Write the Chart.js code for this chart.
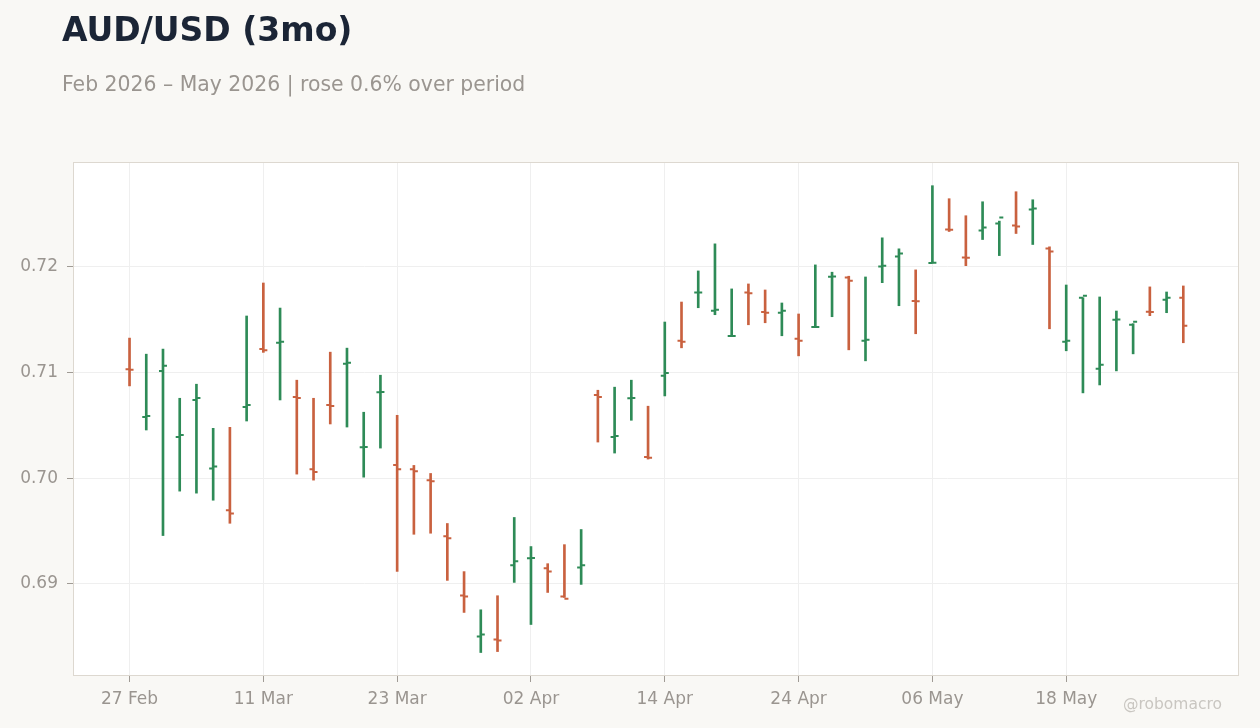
<!DOCTYPE html>
<html>
<head>
<meta charset="utf-8">
<script src="https://cdn.jsdelivr.net/npm/chart.js@4.4.1/dist/chart.umd.min.js"></script>
<style>
  html, body { margin: 0; padding: 0; background: #f9f8f5; }
  #wrap { position: relative; width: 1260px; height: 728px; overflow: hidden; font-family: "DejaVu Sans", sans-serif; }
  #title { position: absolute; left: 62px; top: 13px; font-size: 33px; line-height: 33px; font-weight: bold; color: #1b2536; white-space: nowrap; }
  #subtitle { position: absolute; left: 62px; top: 74px; font-size: 20.4px; line-height: 20.4px; color: #9a9590; white-space: nowrap; }
  #credit { position: absolute; right: 38px; top: 697px; font-size: 15.5px; line-height: 15.5px; color: #c9c6c1; white-space: nowrap; }
  canvas { position: absolute; left: 0; top: 0; }
</style>
</head>
<body>
<div id="wrap">
  <canvas id="ohlc-chart" width="1260" height="728"></canvas>
  <div id="title">AUD/USD (3mo)</div>
  <div id="subtitle">Feb 2026 – May 2026 | rose 0.6% over period</div>
  <div id="credit">@robomacro</div>
</div>
<script>
// trading days, one bar each
var dates = [
  "27 Feb",
  "02 Mar", "03 Mar", "04 Mar", "05 Mar", "06 Mar",
  "09 Mar", "10 Mar", "11 Mar", "12 Mar", "13 Mar",
  "16 Mar", "17 Mar", "18 Mar", "19 Mar", "20 Mar",
  "23 Mar", "24 Mar", "25 Mar", "26 Mar", "27 Mar",
  "30 Mar", "31 Mar", "01 Apr", "02 Apr", "03 Apr",
  "06 Apr", "07 Apr", "08 Apr", "09 Apr", "10 Apr",
  "13 Apr", "14 Apr", "15 Apr", "16 Apr", "17 Apr",
  "20 Apr", "21 Apr", "22 Apr", "23 Apr", "24 Apr",
  "27 Apr", "28 Apr", "29 Apr", "30 Apr", "01 May",
  "04 May", "05 May", "06 May", "07 May", "08 May",
  "11 May", "12 May", "13 May", "14 May", "15 May",
  "18 May", "19 May", "20 May", "21 May", "22 May",
  "25 May", "26 May", "27 May"
];
var tickLabels = ["27 Feb", "11 Mar", "23 Mar", "02 Apr", "14 Apr", "24 Apr", "06 May", "18 May"];
var yTicks = [0.69, 0.70, 0.71, 0.72];

var opens = [
  0.71031, 0.70579, 0.71015, 0.70390, 0.70740, 0.70093, 0.69698, 0.70674, 0.71221, 0.71281,
  0.70769, 0.70086, 0.70693, 0.71082, 0.70292, 0.70813, 0.70124, 0.70086, 0.69982, 0.69451,
  0.68892, 0.68503, 0.68475, 0.69176, 0.69243, 0.69148, 0.68882, 0.69157, 0.70788, 0.70390,
  0.70756, 0.70200, 0.70968, 0.71300, 0.71755, 0.71584, 0.71344, 0.71755, 0.71572, 0.71565,
  0.71318, 0.71429, 0.71906, 0.71897, 0.71300, 0.72001, 0.72096, 0.71676, 0.72036, 0.72352,
  0.72086, 0.72342, 0.72409, 0.72390, 0.72541, 0.72172, 0.71290, 0.71707, 0.71034, 0.71499,
  0.71451, 0.71574, 0.71688, 0.71707
];
var highs = [
  0.71325, 0.71173, 0.71221, 0.70756, 0.70889, 0.70472, 0.70481, 0.71534, 0.71846, 0.71609,
  0.70927, 0.70756, 0.71192, 0.71230, 0.70624, 0.70974, 0.70595, 0.70121, 0.70045, 0.69572,
  0.69117, 0.68756, 0.68889, 0.69629, 0.69354, 0.69192, 0.69372, 0.69515, 0.70832, 0.70861,
  0.70927, 0.70681, 0.71477, 0.71666, 0.71960, 0.72216, 0.71790, 0.71837, 0.71780, 0.71657,
  0.71553, 0.72017, 0.71948, 0.71910, 0.71903, 0.72273, 0.72169, 0.71970, 0.72766, 0.72643,
  0.72482, 0.72614, 0.72431, 0.72709, 0.72633, 0.72188, 0.71827, 0.71707, 0.71714, 0.71581,
  0.71461, 0.71809, 0.71761, 0.71818
];
var lows = [
  0.70873, 0.70456, 0.69458, 0.69878, 0.69859, 0.69792, 0.69574, 0.70541, 0.71190, 0.70740,
  0.70039, 0.69982, 0.70513, 0.70484, 0.70010, 0.70285, 0.69119, 0.69470, 0.69480, 0.69034,
  0.68731, 0.68352, 0.68361, 0.69015, 0.68617, 0.68920, 0.68873, 0.68996, 0.70342, 0.70238,
  0.70548, 0.70181, 0.70778, 0.71233, 0.71612, 0.71546, 0.71344, 0.71451, 0.71470, 0.71347,
  0.71157, 0.71429, 0.71527, 0.71214, 0.71110, 0.71849, 0.71631, 0.71366, 0.72036, 0.72333,
  0.72010, 0.72257, 0.72105, 0.72314, 0.72210, 0.71413, 0.71205, 0.70807, 0.70882, 0.71015,
  0.71176, 0.71537, 0.71565, 0.71281
];
var closes = [
  0.71025, 0.70589, 0.71063, 0.70409, 0.70759, 0.70112, 0.69666, 0.70693, 0.71211, 0.71290,
  0.70759, 0.70058, 0.70683, 0.71091, 0.70295, 0.70816, 0.70086, 0.70067, 0.69972, 0.69432,
  0.68882, 0.68522, 0.68465, 0.69214, 0.69246, 0.69119, 0.68861, 0.69176, 0.70769, 0.70399,
  0.70759, 0.70194, 0.70996, 0.71290, 0.71757, 0.71593, 0.71345, 0.71749, 0.71565, 0.71584,
  0.71300, 0.71431, 0.71908, 0.71868, 0.71309, 0.72010, 0.72124, 0.71674, 0.72038, 0.72350,
  0.72084, 0.72371, 0.72465, 0.72380, 0.72551, 0.72143, 0.71300, 0.71726, 0.71072, 0.71501,
  0.71480, 0.71572, 0.71707, 0.71442
];

var UP = '#2e8b57';
var DOWN = '#c9613f';

var barColors = opens.map(function(o, i) { return closes[i] >= o ? UP : DOWN; });
var wicks = dates.map(function(d, i) { return { x: i, y: [lows[i], highs[i]] }; });

// white plot area, open/close ticks and the frame
var ohlcPlugin = {
  id: 'ohlcPlugin',
  beforeDraw: function(chart) {
    var a = chart.chartArea, ctx = chart.ctx;
    ctx.save();
    ctx.fillStyle = '#ffffff';
    ctx.fillRect(a.left, a.top, a.right - a.left, a.bottom - a.top);
    ctx.restore();
  },
  afterDatasetsDraw: function(chart) {
    var ctx = chart.ctx, xs = chart.scales.x, ys = chart.scales.y;
    ctx.save();
    ctx.lineWidth = 2;
    for (var i = 0; i < dates.length; i++) {
      var px = xs.getPixelForValue(i);
      var po = ys.getPixelForValue(opens[i]);
      var pc = ys.getPixelForValue(closes[i]);
      ctx.strokeStyle = barColors[i];
      ctx.beginPath();
      ctx.moveTo(px - 4, po);
      ctx.lineTo(px, po);
      ctx.moveTo(px, pc);
      ctx.lineTo(px + 4, pc);
      ctx.stroke();
    }
    ctx.restore();
  },
  afterDraw: function(chart) {
    var a = chart.chartArea, ctx = chart.ctx;
    ctx.save();
    ctx.strokeStyle = '#ddd8d0';
    ctx.lineWidth = 1;
    ctx.strokeRect(a.left + 0.5, a.top + 0.5, a.right - a.left - 1, a.bottom - a.top - 1);
    ctx.restore();
  }
};

new Chart(document.getElementById('ohlc-chart'), {
  type: 'bar',
  data: {
    datasets: [{
      label: 'AUD/USD',
      data: wicks,
      backgroundColor: barColors,
      borderWidth: 0,
      barThickness: 2
    }]
  },
  options: {
    responsive: false,
    animation: false,
    devicePixelRatio: 1,
    layout: { padding: { top: 162, right: 21, left: 0, bottom: 0 } },
    plugins: {
      legend: { display: false },
      title: { display: false },
      tooltip: { enabled: false }
    },
    scales: {
      x: {
        type: 'linear',
        offset: false,
        min: -3.38,
        max: 66.33,
        grid: { offset: false, color: '#efefef', tickColor: '#a09b95', tickLength: 6 },
        border: { display: false },
        afterBuildTicks: function(scale) {
          scale.ticks = tickLabels.map(function(t) { return { value: dates.indexOf(t) }; });
        },
        afterFit: function(scale) { scale.height = 52; },
        ticks: {
          autoSkip: false,
          maxRotation: 0,
          padding: 7.5,
          color: '#9a9590',
          font: { family: 'DejaVu Sans', size: 17 },
          callback: function(v) { return dates[v]; }
        }
      },
      y: {
        min: 0.6813,
        max: 0.7299,
        beginAtZero: false,
        grid: { color: '#efefef', tickColor: '#a09b95', tickLength: 6 },
        border: { display: false },
        afterBuildTicks: function(scale) {
          scale.ticks = yTicks.map(function(v) { return { value: v }; });
        },
        afterFit: function(scale) { scale.width = 73; },
        ticks: {
          padding: 9,
          color: '#9a9590',
          font: { family: 'DejaVu Sans', size: 17 },
          callback: function(v) { return v.toFixed(2); }
        }
      }
    }
  },
  plugins: [ohlcPlugin]
});
</script>
</body>
</html>
